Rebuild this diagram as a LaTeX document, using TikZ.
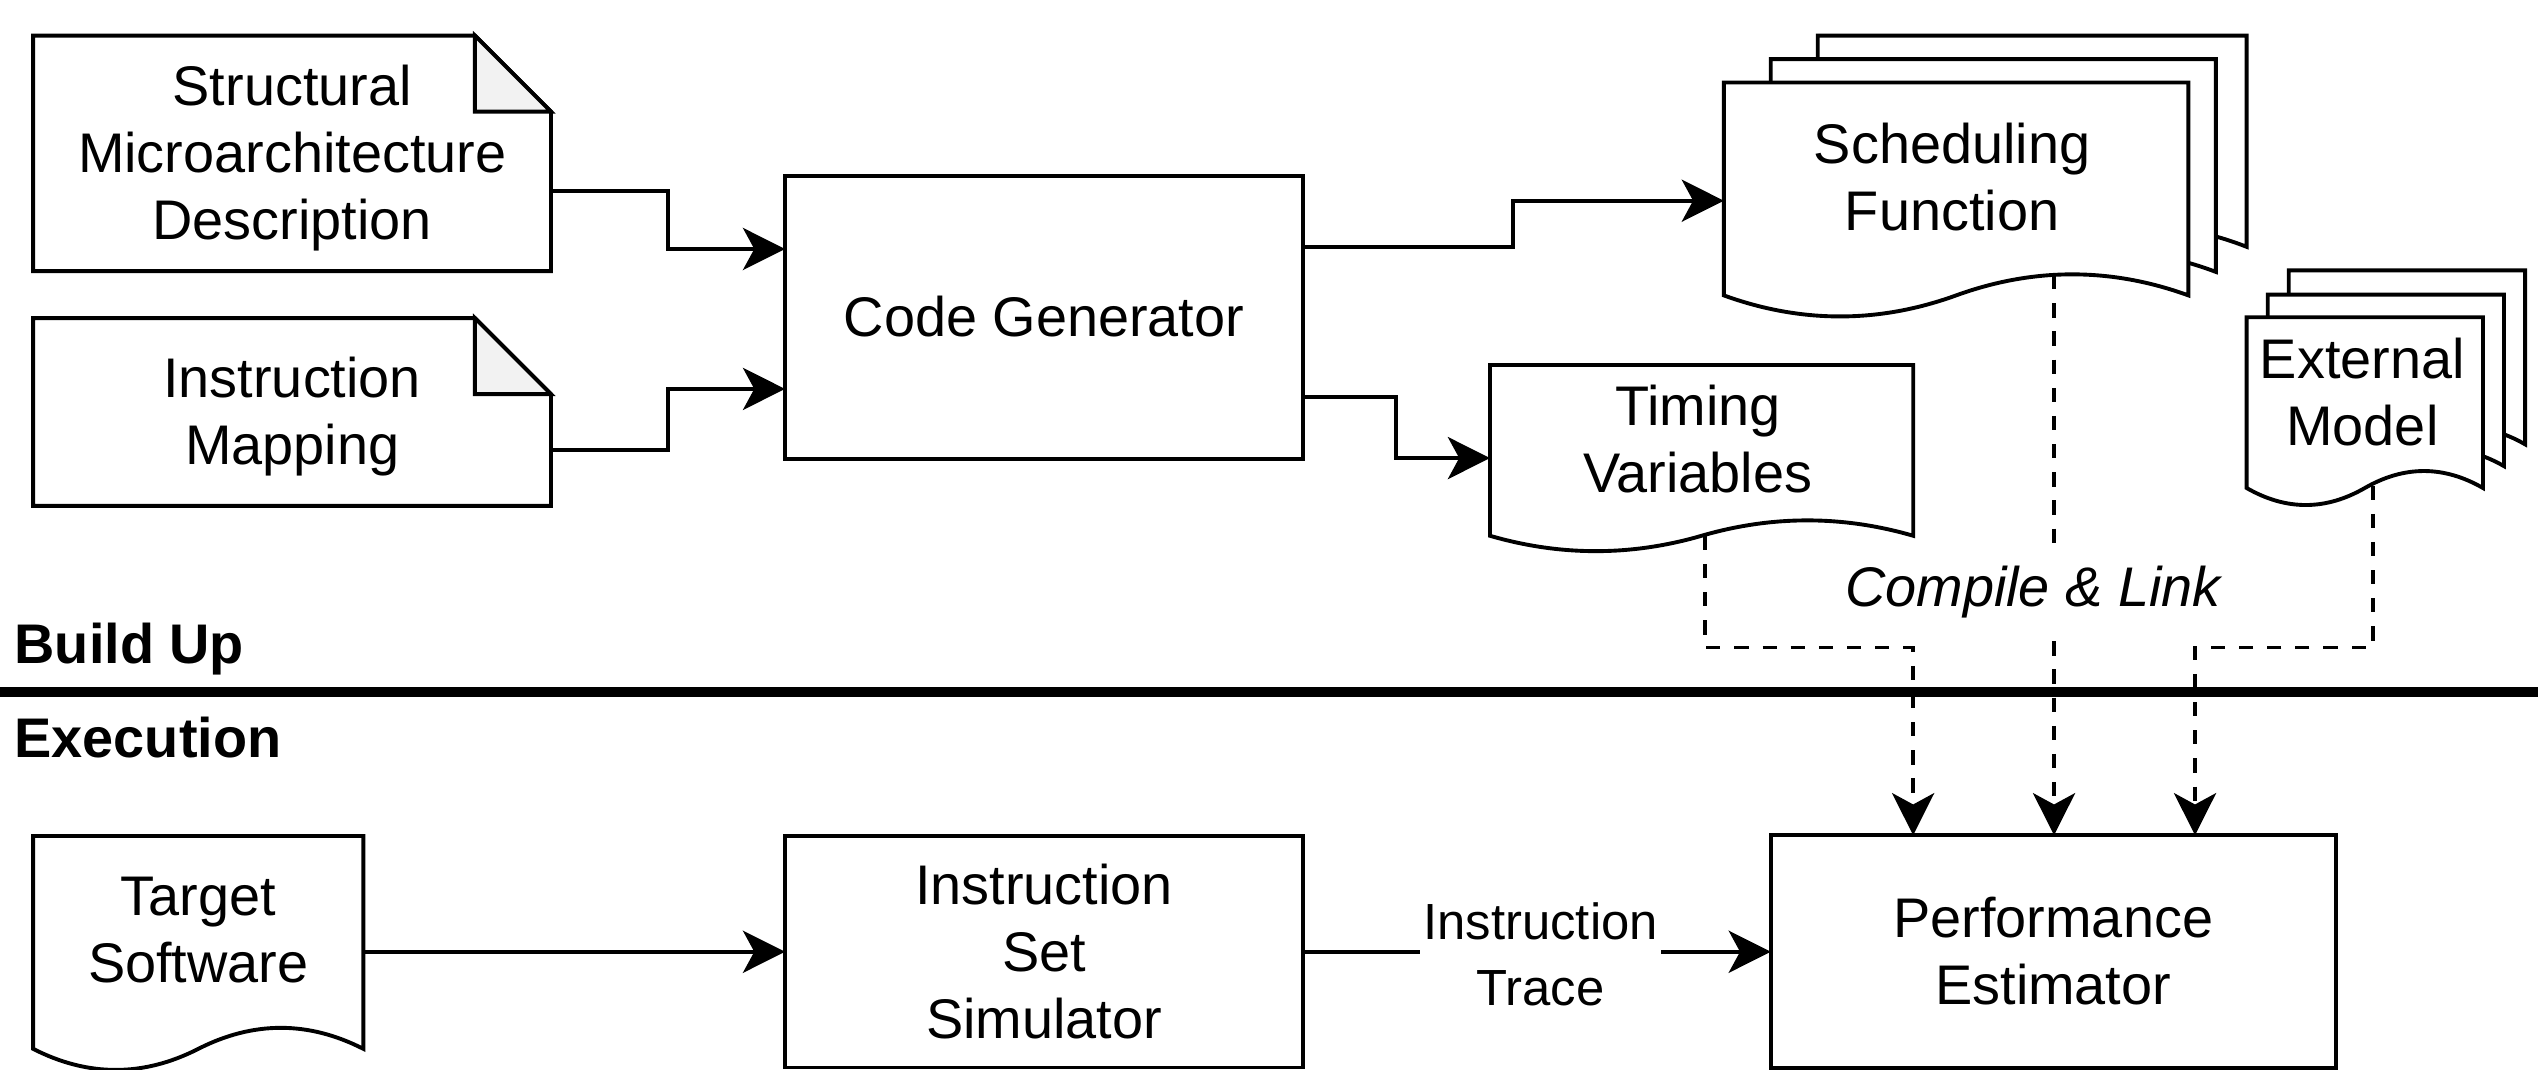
\documentclass[tikz,border=0pt]{standalone}
\usepackage{fontspec}
\setmainfont{Liberation Sans}
\usetikzlibrary{arrows.meta,calc}

% strut giving each text block draw.io-like vertical metrics
\newcommand\tstrut{\rule[-0.2536em]{0pt}{1.2em}}

% document shape with a wavy bottom: x1, x2, top, y of the wave ends, amplitude
\newcommand\docshape[5]{%
  \path[doc] (#1,#3) -- (#2,#3) -- (#2,#4)
    .. controls ({#2-(#2-#1)/6},{#4-4*#5/3}) and ({(#1+#2)/2+(#2-#1)/6},{#4-4*#5/3}) .. ({(#1+#2)/2},#4)
    .. controls ({(#1+#2)/2-(#2-#1)/6},{#4+4*#5/3}) and ({#1+(#2-#1)/6},{#4+4*#5/3}) .. (#1,#4) -- cycle;}

% note shape with a folded corner: x1, x2, top, bottom, fold size
\newcommand\noteshape[5]{%
  \path[doc] (#1,#3) -- ({#2-#5},#3) -- (#2,{#3+#5}) -- (#2,#4) -- (#1,#4) -- cycle;
  \path[doc, fill=foldgray] ({#2-#5},#3) -- ({#2-#5},{#3+#5}) -- (#2,{#3+#5}) -- cycle;}

\definecolor{foldgray}{HTML}{F2F2F2}

\begin{document}
\begin{tikzpicture}[x=1pt, y=-1pt,
  every node/.style={inner sep=0pt, outer sep=0pt},
  shapeline/.style={line width=2.4pt, line join=miter},
  doc/.style={shapeline, draw=black, fill=white},
  box/.style={shapeline, draw=black, fill=white, rectangle, minimum width=320pt},
  lbl/.style={font=\fontsize{34.5}{41.4}\selectfont, align=center},
  conn/.style={line width=2.4pt, -{Stealth[length=26pt, width=26pt, inset=7pt]}},
  dconn/.style={conn, dash pattern=on 8.8pt off 8.6pt},
]
\useasboundingbox (0,0) rectangle (1568,661);

% ---------- build-up inputs ----------
\noteshape{20.5}{340.4}{22}{167.5}{47}
\node[lbl] (sm) at (180.5,94.5) {\tstrut Structural\\Microarchitecture\\Description\tstrut};
\coordinate (sm-out) at (340.4,118);

\noteshape{20.5}{340.4}{196.5}{312.5}{47}
\node[lbl] (im) at (180.5,254.5) {\tstrut Instruction\\Mapping\tstrut};
\coordinate (im-out) at (340.4,278);

% ---------- code generator ----------
\node[box, lbl, minimum height=175pt] (cg) at (645,196) {\tstrut Code Generator\tstrut};

% ---------- generated artefacts ----------
\docshape{1123}{1388}{22}{152.5}{13}
\docshape{1094}{1369}{36.5}{168}{13}
\docshape{1065}{1352}{51}{182.5}{13}
\node[lbl] (sf) at (1206,109.5) {\tstrut Scheduling\\Function\tstrut};
\coordinate (sf-in) at (1065,124);
\coordinate (sf-out) at (1269,170);

\docshape{920.5}{1182}{225.5}{331}{9.5}
\node[lbl] (tv) at (1049,271.8) {\tstrut Timing\\Variables\tstrut};
\coordinate (tv-in) at (920.5,283);
\coordinate (tv-out) at (1053.5,331);

\docshape{1414}{1560}{167}{274.5}{10.5}
\docshape{1401}{1547}{182}{288}{10.5}
\docshape{1388}{1534}{196}{301.5}{10.5}
\node[lbl] (em) at (1459.5,242.3) {\tstrut External\\Model\tstrut};
\coordinate (em-out) at (1466,300);

% ---------- phase separator ----------
\draw[line width=5.8pt] (0,427.5) coordinate (sep-l) -- (1568,427.5) coordinate (sep-r);
\node[lbl, font=\fontsize{34.5}{41.4}\selectfont\bfseries, anchor=base west] (bu) at (9,409.8) {Build Up};
\node[lbl, font=\fontsize{34.5}{41.4}\selectfont\bfseries, anchor=base west] (ex) at (9,467.8) {Execution};

% ---------- execution ----------
\docshape{20.5}{224.5}{516.5}{648}{13}
\node[lbl] (ts) at (122.5,574.3) {\tstrut Target\\Software\tstrut};
\coordinate (ts-out) at (224.5,588);

\node[box, lbl, minimum height=143pt] (iss) at (645,588) {\tstrut Instruction\\Set\\Simulator\tstrut};
\node[box, lbl, minimum width=349pt, minimum height=144pt] (pe) at (1268.5,588) {\tstrut Performance\\Estimator\tstrut};

% ---------- connectors ----------
\draw[conn] (sm-out) -- ++(72.3,0) |- ($(cg.north west)!0.259!(cg.south west)$);
\draw[conn] (im-out) -- ++(72.3,0) |- ($(cg.north west)!0.753!(cg.south west)$);
\draw[conn] ($(cg.north east)!0.253!(cg.south east)$) -- ++(130,0) |- (sf-in);
\draw[conn] ($(cg.north east)!0.78!(cg.south east)$) -- ++(57.5,0) |- (tv-in);

\draw[conn] (ts-out) -- (iss.west);
\draw[conn] (iss.east) -- node[pos=0.508, yshift=-2pt, fill=white, inner xsep=2pt, inner ysep=1pt,
  font=\fontsize{31.4}{40.8}\selectfont, align=center] (it)
  {\rule[-9.5pt]{0pt}{40.8pt}Instruction\\Trace\rule[-9.5pt]{0pt}{40.8pt}} (pe.west);

\draw[dconn] (tv-out) -- ++(0,69) -| ($(pe.north west)!0.252!(pe.north east)$);
\draw[dconn] (sf-out) -- (sf-out |- pe.north);
\draw[dconn] (em-out) -- ++(0,100) -| ($(pe.north west)!0.751!(pe.north east)$);

\node[lbl, font=\fontsize{34.5}{41.4}\selectfont\itshape, fill=white, inner xsep=2pt, inner ysep=4pt] (cl)
  at (1256,362.5) {\tstrut Compile \& Link\tstrut};
\end{tikzpicture}
\end{document}
